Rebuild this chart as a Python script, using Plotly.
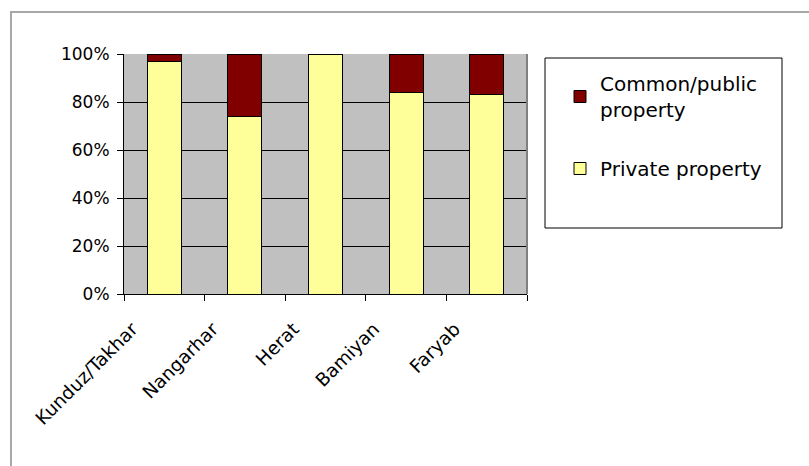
import plotly.graph_objects as go

categories = ["Kunduz/Takhar", "Nangarhar", "Herat", "Bamiyan", "Faryab"]
private_property = [0.97, 0.74, 1.00, 0.84, 0.83]
common_property = [0.03, 0.26, 0.00, 0.16, 0.17]
y_ticks = [0, 0.2, 0.4, 0.6, 0.8, 1.0]
y_tick_labels = ["0%", "20%", "40%", "60%", "80%", "100%"]

W, H = 809, 466
L, R, T, B = 124, 282, 54, 172
PW, PH = W - L - R, H - T - B

def px(x):
    return (x - L) / PW

def py(y):
    return (H - B - y) / PH

FONT = "DejaVu Sans"

fig = go.Figure()
fig.add_trace(go.Bar(
    x=categories, y=private_property, name="Private property",
    marker=dict(color="#FFFF99", line=dict(color="black", width=1)),
    legendgroup="b", legendrank=2,
))
fig.add_trace(go.Bar(
    x=categories, y=common_property, name="Common/public<br>property",
    marker=dict(color="#800000", line=dict(color="black", width=1)),
    legendgroup="a", legendrank=1,
))

fig.update_layout(
    width=W, height=H,
    margin=dict(l=L, r=R, t=T, b=B, pad=0),
    barmode="stack", bargap=0.58,
    paper_bgcolor="white", plot_bgcolor="#C0C0C0",
    font=dict(family=FONT, color="black", size=16),
    legend=dict(
        x=px(560), y=py(64), xanchor="left", yanchor="top",
        bgcolor="rgba(0,0,0,0)", borderwidth=0,
        font=dict(family=FONT, size=20, color="black"),
        traceorder="grouped", tracegroupgap=30,
    ),
    xaxis=dict(
        showgrid=False, showline=True, linecolor="black", linewidth=1,
        ticks="outside", ticklen=6, tickcolor="black", tickson="boundaries",
        tickangle=-45, tickfont=dict(family=FONT, size=18.5),
        ticklabelshift=-32, ticklabelstandoff=16,
    ),
    yaxis=dict(
        range=[0, 1], tickvals=y_ticks, ticktext=y_tick_labels,
        showgrid=True, gridcolor="black", gridwidth=1,
        showline=True, linecolor="black", linewidth=1,
        ticks="outside", ticklen=6, tickcolor="black",
        tickfont=dict(family=FONT, size=17), zeroline=False,
        ticklabelstandoff=4,
    ),
    shapes=[
        dict(type="rect", xref="paper", yref="paper",
             x0=px(11), x1=px(830), y0=py(480), y1=py(12),
             line=dict(color="#A8A8A8", width=2), layer="below"),
        dict(type="rect", xref="paper", yref="paper",
             x0=px(545), x1=px(782), y0=py(228), y1=py(58),
             line=dict(color="black", width=1)),
        dict(type="line", xref="paper", yref="paper",
             x0=1, x1=1, y0=0, y1=1,
             line=dict(color="#808080", width=2)),
    ],
)

fig.write_html("out.html")
